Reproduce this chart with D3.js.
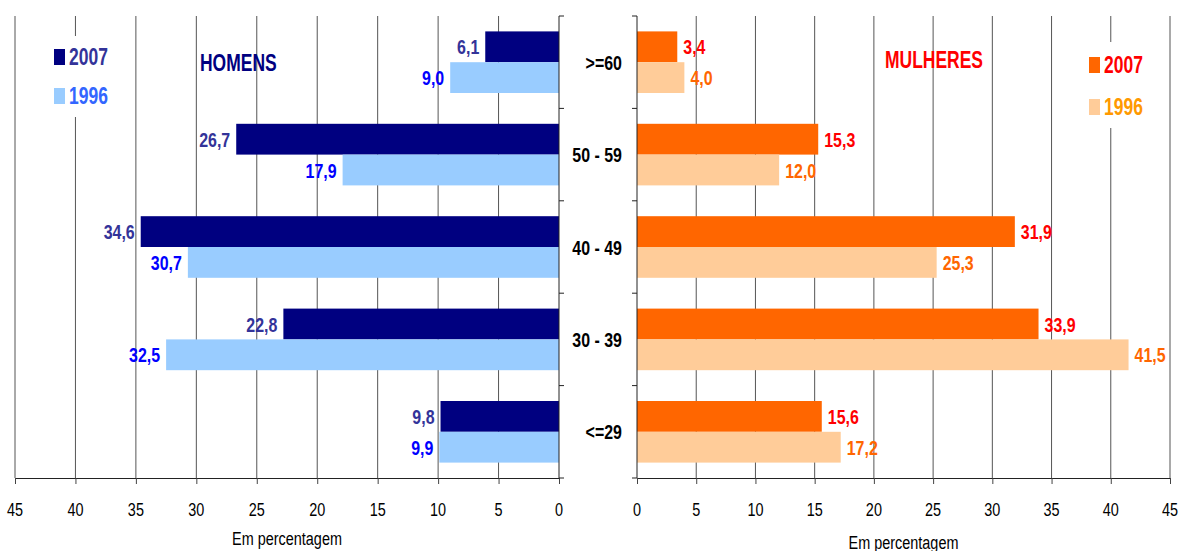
<!DOCTYPE html>
<html>
<head>
<meta charset="utf-8">
<script src="https://cdn.jsdelivr.net/npm/d3@7"></script>
<style>
  body { margin: 0; background: #fff; }
  svg text { font-family: "Liberation Sans", Arial, sans-serif; }
</style>
</head>
<body>
<svg width="1180" height="551"></svg>
<script>
const CATEGORIES = [">=60", "50 - 59", "40 - 49", "30 - 39", "<=29"];
const YEARS = ["2007", "1996"];
const HOMENS_2007 = [6.1, 26.7, 34.6, 22.8, 9.8];
const HOMENS_1996 = [9.0, 17.9, 30.7, 32.5, 9.9];
const MULHERES_2007 = [3.4, 15.3, 31.9, 33.9, 15.6];
const MULHERES_1996 = [4.0, 12.0, 25.3, 41.5, 17.2];
const X_TICKS = [0, 5, 10, 15, 20, 25, 30, 35, 40, 45];

const TOP = 16;
const BOTTOM = 478;
// the original uses a narrow font, so squeeze Liberation Sans sideways
const SQUEEZE = 0.76;
const at = (x, y) => `translate(${x},${y}) scale(${SQUEEZE},1)`;

const svg = d3.select("svg");

const yScale = d3.scaleBand().domain(CATEGORIES).range([TOP, BOTTOM]);
const yearScale = d3
  .scaleBand()
  .domain(YEARS)
  .range([0, yScale.bandwidth()])
  .paddingOuter(0.5);

const xLeft = d3.scaleLinear().domain([0, 45]).range([559, 15]);
const xRight = d3.scaleLinear().domain([0, 45]).range([637, 1170]);

const fmt = (v) => v.toFixed(1).replace(".", ",");

const toRows = (a, b) =>
  CATEGORIES.flatMap((c, i) => [
    { cat: c, year: "2007", value: a[i] },
    { cat: c, year: "1996", value: b[i] },
  ]);

const panels = [
  {
    x: xLeft,
    rows: toRows(HOMENS_2007, HOMENS_1996),
    fill: { "2007": "#000080", "1996": "#99ccff" },
    label: { "2007": "#333399", "1996": "#0000ff" },
    side: -1,
    titleY: 545,
  },
  {
    x: xRight,
    rows: toRows(MULHERES_2007, MULHERES_1996),
    fill: { "2007": "#ff6600", "1996": "#ffcc99" },
    label: { "2007": "#ff0000", "1996": "#ff6600" },
    side: 1,
    titleY: 549,
  },
];

const boundaries = CATEGORIES.map((c) => yScale(c)).concat([BOTTOM]);

panels.forEach((p) => {
  const g = svg.append("g");
  const zeroX = p.x(0);

  //gridlines
  g.selectAll(".grid")
    .data(X_TICKS.filter((t) => t !== 0))
    .enter()
    .append("line")
    .attr("x1", (d) => p.x(d))
    .attr("x2", (d) => p.x(d))
    .attr("y1", TOP)
    .attr("y2", BOTTOM)
    .attr("stroke", "#555")
    .attr("stroke-width", 1);

  //x axis (labels drawn separately so they can be squeezed)
  const axis = g
    .append("g")
    .attr("transform", `translate(0, ${BOTTOM})`)
    .call(d3.axisBottom(p.x).tickValues(X_TICKS).tickSize(6).tickSizeOuter(0).tickFormat(""));
  axis.select(".domain").attr("stroke", "#222");
  axis.selectAll(".tick line").attr("stroke", "#444");

  g.selectAll(".xlabel")
    .data(X_TICKS)
    .enter()
    .append("text")
    .attr("transform", (d) => at(p.x(d), 516))
    .attr("text-anchor", "middle")
    .attr("font-size", 19)
    .text((d) => d);

  g.append("text")
    .attr("transform", at((p.x(0) + p.x(45)) / 2, p.titleY))
    .attr("text-anchor", "middle")
    .attr("font-size", 19)
    .text("Em percentagem");

  //bars
  g.selectAll(".bar")
    .data(p.rows)
    .enter()
    .append("rect")
    .attr("x", (d) => Math.min(zeroX, p.x(d.value)))
    .attr("width", (d) => Math.abs(p.x(d.value) - zeroX))
    .attr("y", (d) => yScale(d.cat) + yearScale(d.year))
    .attr("height", yearScale.bandwidth())
    .attr("fill", (d) => p.fill[d.year]);

  //values
  g.selectAll(".label")
    .data(p.rows)
    .enter()
    .append("text")
    .attr("transform", (d) =>
      at(p.x(d.value) + p.side * 6, yScale(d.cat) + yearScale(d.year) + yearScale.bandwidth() / 2)
    )
    .attr("dy", "0.36em")
    .attr("text-anchor", p.side < 0 ? "end" : "start")
    .attr("font-size", 21)
    .attr("font-weight", "bold")
    .attr("fill", (d) => p.label[d.year])
    .text((d) => fmt(d.value));

  //category axis
  g.append("line")
    .attr("x1", zeroX)
    .attr("x2", zeroX)
    .attr("y1", TOP)
    .attr("y2", BOTTOM)
    .attr("stroke", "#222");
  g.selectAll(".cattick")
    .data(boundaries)
    .enter()
    .append("line")
    .attr("x1", zeroX)
    .attr("x2", zeroX - p.side * 5)
    .attr("y1", (d) => d)
    .attr("y2", (d) => d)
    .attr("stroke", "#222");
});

//category labels
svg
  .selectAll(".cat")
  .data(CATEGORIES)
  .enter()
  .append("text")
  .attr("transform", (d) => at(622, yScale(d) + yScale.bandwidth() / 2))
  .attr("dy", "0.36em")
  .attr("text-anchor", "end")
  .attr("font-size", 21)
  .attr("font-weight", "bold")
  .text((d) => d);

//titles
svg.append("text").attr("transform", at(200, 71)).attr("font-size", 23)
  .attr("font-weight", "bold").attr("fill", "#000080").text("HOMENS");
svg.append("text").attr("transform", at(885, 68)).attr("font-size", 23)
  .attr("font-weight", "bold").attr("fill", "#ff0000").text("MULHERES");

//legends
const legends = [
  { x: 54, y: 49, gap: 39, box: [42, 36, 76, 81], fill: ["#000080", "#99ccff"], text: ["#333399", "#3366ff"] },
  { x: 1089, y: 57, gap: 42, box: [1080, 42, 72, 86], fill: ["#ff6600", "#ffcc99"], text: ["#ff0000", "#ff9900"] },
];
legends.forEach((l) => {
  const g = svg.append("g");
  g.append("rect")
    .attr("x", l.box[0]).attr("y", l.box[1])
    .attr("width", l.box[2]).attr("height", l.box[3])
    .attr("fill", "#fff");
  YEARS.forEach((yr, i) => {
    const yy = l.y + i * l.gap;
    g.append("rect").attr("x", l.x).attr("y", yy).attr("width", 11).attr("height", 16).attr("fill", l.fill[i]);
    g.append("text").attr("transform", at(l.x + 15, yy + 16)).attr("font-size", 23)
      .attr("font-weight", "bold").attr("fill", l.text[i]).text(yr);
  });
});
</script>
</body>
</html>
